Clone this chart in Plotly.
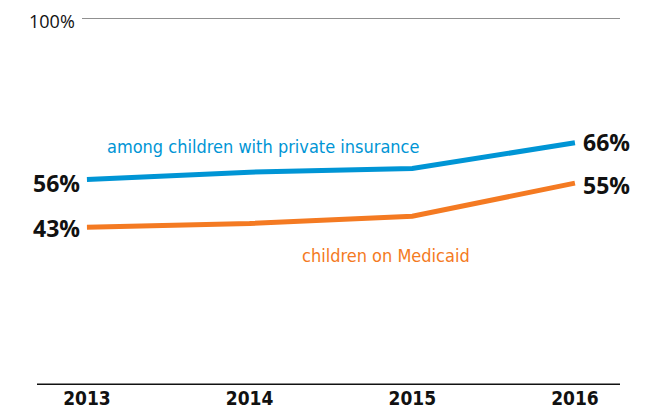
import plotly.graph_objects as go

years = [2013, 2014, 2015, 2016]
private_pct = [56, 58, 59, 66]
medicaid_pct = [43, 44, 46, 55]
year_labels = ["2013", "2014", "2015", "2016"]

BLUE = "#0095d5"
ORANGE = "#f47a22"
COND = "DejaVu Sans Condensed, Liberation Sans Narrow, sans-serif"
SANS = "Open Sans, Noto Sans, sans-serif"

fig = go.Figure()
fig.add_trace(go.Scatter(x=years, y=private_pct, mode="lines",
                         line=dict(color=BLUE, width=5), hoverinfo="skip"))
fig.add_trace(go.Scatter(x=years, y=medicaid_pct, mode="lines",
                         line=dict(color=ORANGE, width=5), hoverinfo="skip"))

# 100% reference line
fig.add_shape(type="line", xref="paper", yref="y", x0=(82 - 37) / 583, x1=1, y0=100, y1=100,
              line=dict(color="#222", width=1.2))
# baseline
fig.add_shape(type="line", xref="paper", yref="y", x0=0, x1=1, y0=0, y1=0,
              line=dict(color="#111", width=3))

ann = []
ann.append(dict(x=0, xref="paper", y=1, yref="paper", text="100%", showarrow=False,
                xanchor="right", yanchor="top", xshift=(76 - 37), yshift=10, borderpad=0,
                font=dict(family=SANS, size=18, color="#111")))
bold = dict(family=SANS, size=23, color="#111", weight="bold")
ann.append(dict(x=years[0], y=private_pct[0], text=f"{private_pct[0]}%", showarrow=False,
                xanchor="right", xshift=-5, yshift=-4, font=bold))
ann.append(dict(x=years[0], y=medicaid_pct[0], text=f"{medicaid_pct[0]}%", showarrow=False,
                xanchor="right", xshift=-5, yshift=-1, font=bold))
ann.append(dict(x=years[-1], y=private_pct[-1], text=f"{private_pct[-1]}%", showarrow=False,
                xanchor="left", xshift=6, yshift=1, font=bold))
ann.append(dict(x=years[-1], y=medicaid_pct[-1], text=f"{medicaid_pct[-1]}%", showarrow=False,
                xanchor="left", xshift=6, yshift=-2, font=bold))
ann.append(dict(x=2014.08, y=64.9, text="among children with private insurance", showarrow=False,
                font=dict(family=COND, size=18, color=BLUE)))
ann.append(dict(x=2014.84, y=35.4, text="children on Medicaid", showarrow=False,
                font=dict(family=COND, size=18, color=ORANGE)))

fig.update_layout(
    width=652, height=418,
    margin=dict(l=29, r=40, t=10, b=41),
    paper_bgcolor="white", plot_bgcolor="white",
    showlegend=False,
    annotations=ann,
    xaxis=dict(range=[2012.693, 2016.277], tickvals=years, ticktext=year_labels,
               showgrid=False, zeroline=False, showline=False, ticks="",
               tickfont=dict(family=COND, size=19, color="#111", weight="bold")),
    yaxis=dict(range=[0, 100], visible=False, showgrid=False, zeroline=False),
)

fig.write_html("out.html")
